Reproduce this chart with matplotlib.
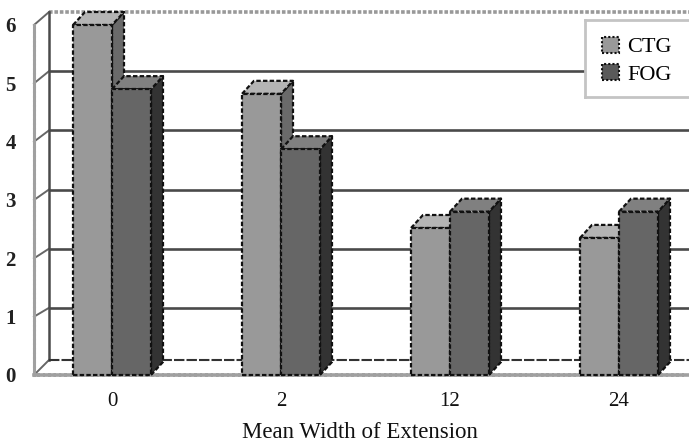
import matplotlib
matplotlib.use("Agg")
import matplotlib.pyplot as plt
from matplotlib.patches import Polygon, Patch

categories = ["0", "2", "12", "24"]
ctg = [6.0, 4.82, 2.52, 2.35]
fog = [4.9, 3.87, 2.8, 2.8]
y_ticks = [0, 1, 2, 3, 4, 5, 6]

W, H = 689, 445
plt.rcParams["font.family"] = "Liberation Serif"
fig = plt.figure(figsize=(W / 100, H / 100), dpi=100)

def rect(x0, ytop, x1, ybot):
    return [x0 / W, 1 - ybot / H, (x1 - x0) / W, (ybot - ytop) / H]

# back wall
wall = fig.add_axes(rect(49, 12, 689, 367), zorder=1)
wall.set_ylim(0, 6)
wall.set_xlim(0, 1)
wall.set_xticks([])
wall.set_yticks([])
for s in wall.spines.values():
    s.set_visible(False)
wall.patch.set_alpha(0)
for v in y_ticks[1:-1]:
    wall.axhline(v, color="#4a4a4a", lw=1.9)
wall.axhline(6, color="#999999", lw=2.6, ls=(0, (1, 0.5)), clip_on=False)

# front plane
ax = fig.add_axes(rect(34, 25, 689, 375), zorder=2)
ax.patch.set_alpha(0)
px = 169.0
ax.set_xlim((34 - 112) / px, (689 - 112) / px)
ax.set_ylim(0, 6)
uy = 350 / 6
dx, dy = 12 / px, 13 / uy
for s in ax.spines.values():
    s.set_visible(False)
for name, lw in (("left", 2.2), ("bottom", 2.6)):
    ax.spines[name].set_visible(True)
    ax.spines[name].set_color("#a0a0a0")
    ax.spines[name].set_linewidth(lw)
    ax.spines[name].set_linestyle((0, (1, 0.5)))
ax.set_yticks(y_ticks)
ax.set_yticklabels([str(v) for v in y_ticks], fontsize=15, fontweight="bold", color="#222222")
ax.set_xticks(range(len(categories)))
ax.set_xticklabels(categories, fontsize=15, color="#111111")
ax.tick_params(length=0)
ax.tick_params(axis="y", pad=13)
ax.tick_params(axis="x", pad=12)
ax.set_xlabel("Mean Width of Extension", fontsize=16.5, color="#111111")
ax.xaxis.set_label_coords((360 - 34) / 655, -47 / 350, transform=ax.transAxes)

# depth connectors on the side wall
ddx = 15 / px
wall_scale = 355 / 6 / uy
x_left = ax.get_xlim()[0]
for v in y_ticks:
    back = (v * wall_scale * uy + 8 if v else 15) / uy
    ax.plot([x_left, x_left + ddx], [v, back], color="#666666",
            lw=1.4, clip_on=False, zorder=1)
ax.plot([x_left + ddx] * 2, [15 / uy, 6.22], color="#4a4a4a", lw=1.8,
        clip_on=False, zorder=1)
ax.plot([x_left + ddx, ax.get_xlim()[1]], [15 / uy] * 2, color="#333333",
        lw=1.5, ls=(0, (5, 1)), clip_on=False, zorder=1)

def bar3d(x0, v, front, top, side):
    w = 39 / px
    x1 = x0 + w
    kw = dict(edgecolor="#111111", lw=1.6, ls=(0, (2, 1)), clip_on=False, zorder=3, joinstyle="round")
    ax.add_patch(Polygon([(x1, 0), (x1 + dx, dy), (x1 + dx, v + dy), (x1, v)], fc=side, **kw))
    ax.add_patch(Polygon([(x0, v), (x0 + dx, v + dy), (x1 + dx, v + dy), (x1, v)], fc=top, **kw))
    ax.add_patch(Polygon([(x0, 0), (x1, 0), (x1, v), (x0, v)], fc=front, **kw))

w = 39 / px
for i in range(len(categories)):
    bar3d(i - w, ctg[i], "#999999", "#b4b4b4", "#6a6a6a")
    bar3d(i, fog[i], "#666666", "#808080", "#333333")

# legend box reaching the right edge of the picture
box = fig.add_axes(rect(585, 20, 695, 97), zorder=9)
box.set_xticks([])
box.set_yticks([])
box.patch.set_facecolor("white")
for s in box.spines.values():
    s.set_color("#c4c4c4")
    s.set_linewidth(2)

handles = [Patch(fc="#999999", ec="#111111", lw=1.5, ls=(0, (1, 1)), label="CTG"),
           Patch(fc="#5a5a5a", ec="#111111", lw=1.5, ls=(0, (1, 1)), label="FOG")]
leg = fig.legend(handles=handles, loc="upper left", bbox_to_anchor=(585 / W, 1 - 20 / H),
                 borderaxespad=0, fontsize=16, frameon=False,
                 handlelength=0.78, handleheight=0.72, handletextpad=0.36,
                 labelspacing=0.32, borderpad=0.75)
leg.set_zorder(10)

fig.savefig("out.png", dpi=100)
